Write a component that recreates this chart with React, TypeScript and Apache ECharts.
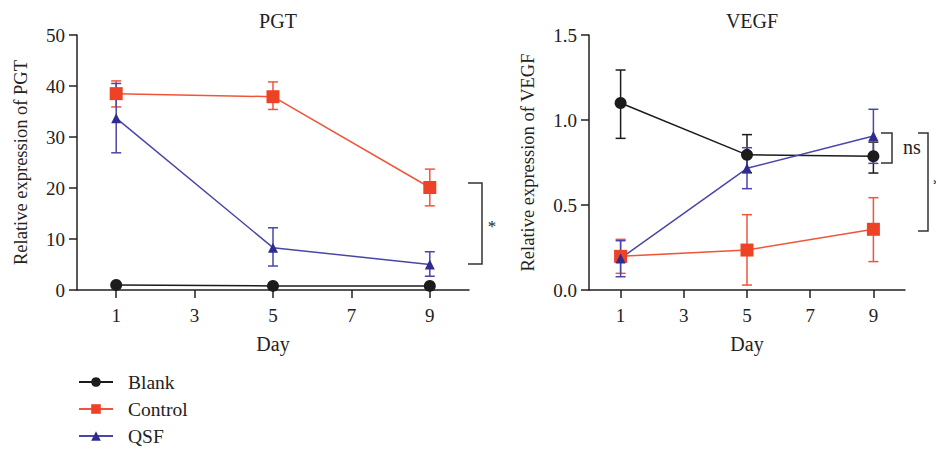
import React, { useEffect, useRef } from "react";
import * as echarts from "echarts";

const days = [1, 5, 9];
const dayTicks = [1, 3, 5, 7, 9];
const seriesNames = ["Blank", "Control", "QSF"];
const colors = ["#1c1c1c", "#ee4226", "#2f2b91"];
const lineColors = ["#1c1c1c", "#f0553a", "#4a46a8"];
const symbols = ["circle", "rect", "triangle"];
const symbolSizes = [12, 13, 10];

// PGT: mean, low, high
const pgtMean = [
  [1.0, 0.8, 0.8],
  [38.5, 37.9, 20.1],
  [33.7, 8.3, 5.0],
];
const pgtLow = [
  [1.0, 0.8, 0.8],
  [35.9, 35.4, 16.5],
  [26.9, 4.7, 2.7],
];
const pgtHigh = [
  [1.0, 0.8, 0.8],
  [41.0, 40.8, 23.7],
  [40.5, 12.2, 7.5],
];

// VEGF: mean, low, high
const vegfMean = [
  [1.1, 0.795, 0.787],
  [0.198, 0.235, 0.357],
  [0.186, 0.716, 0.906],
];
const vegfLow = [
  [0.892, 0.69, 0.688],
  [0.098, 0.029, 0.167],
  [0.078, 0.596, 0.745],
];
const vegfHigh = [
  [1.294, 0.914, 0.87],
  [0.298, 0.443, 0.543],
  [0.29, 0.837, 1.063],
];

const FONT = "'Liberation Serif', 'DejaVu Serif', serif";

export default function App() {
  const ref = useRef<HTMLDivElement>(null);
  useEffect(() => {
    if (!ref.current) return;
    const chart = echarts.init(ref.current, undefined, { renderer: "svg" });

    const axisCommon = {
      axisLine: { show: true, lineStyle: { color: "#222", width: 1.5 } },
      axisTick: { show: true, length: 8, lineStyle: { color: "#222", width: 1.5 } },
      splitLine: { show: false },
    };

    const xAxis = [0, 1].map((i) => ({
      ...axisCommon,
      type: "value",
      gridIndex: i,
      min: 0,
      max: 10,
      name: "Day",
      nameLocation: "middle",
      nameGap: 44,
      nameTextStyle: { color: "#222", fontSize: 20, fontFamily: FONT },
      axisTick: { ...axisCommon.axisTick, customValues: dayTicks },
      axisLabel: { customValues: dayTicks, color: "#222", fontSize: 19, fontFamily: FONT, margin: 16 },
    }));

    const yAxis = [
      {
        ...axisCommon,
        type: "value",
        gridIndex: 0,
        min: 0,
        max: 50,
        interval: 10,
        name: "Relative expression of PGT",
        nameLocation: "middle",
        nameGap: 47,
        nameTextStyle: { color: "#222", fontSize: 18.5, fontFamily: FONT },
        axisLabel: { color: "#222", fontSize: 19, fontFamily: FONT, margin: 12 },
      },
      {
        ...axisCommon,
        type: "value",
        gridIndex: 1,
        min: 0,
        max: 1.5,
        interval: 0.5,
        name: "Relative expression of VEGF",
        nameLocation: "middle",
        nameGap: 52,
        nameTextStyle: { color: "#222", fontSize: 18.5, fontFamily: FONT },
        axisLabel: {
          color: "#222",
          fontSize: 19,
          fontFamily: FONT,
          margin: 12,
          formatter: (v: number) => v.toFixed(1),
        },
      },
    ];

    const series: any[] = [];
    const panels = [
      { mean: pgtMean, low: pgtLow, high: pgtHigh },
      { mean: vegfMean, low: vegfLow, high: vegfHigh },
    ];
    panels.forEach((p, pi) => {
      seriesNames.forEach((name, si) => {
        series.push({
          type: "custom",
          xAxisIndex: pi,
          yAxisIndex: pi,
          z: 1,
          silent: true,
          data: days.map((d, k) => [d, p.mean[si][k], p.low[si][k], p.high[si][k]]),
          encode: { x: 0, y: 1 },
          renderItem: (params: any, api: any) => {
            const x = api.value(0);
            const lo = api.coord([x, api.value(2)]);
            const hi = api.coord([x, api.value(3)]);
            const w = 5;
            const style = { stroke: lineColors[si], lineWidth: 1.5 };
            return {
              type: "group",
              children: [
                { type: "line", shape: { x1: lo[0], y1: lo[1], x2: hi[0], y2: hi[1] }, style },
                { type: "line", shape: { x1: lo[0] - w, y1: lo[1], x2: lo[0] + w, y2: lo[1] }, style },
                { type: "line", shape: { x1: hi[0] - w, y1: hi[1], x2: hi[0] + w, y2: hi[1] }, style },
              ],
            };
          },
        });
        series.push({
          type: "line",
          name,
          xAxisIndex: pi,
          yAxisIndex: pi,
          z: 3,
          data: days.map((d, k) => [d, p.mean[si][k]]),
          symbol: symbols[si],
          symbolSize: symbolSizes[si],
          lineStyle: { color: lineColors[si], width: 1.5 },
          itemStyle: { color: colors[si] },
        });
      });
    });

    const bracketStyle = { stroke: "#333", lineWidth: 1.5, fill: "none" };
    const textStyle = (text: string, x: number, y: number, size = 20) => ({
      type: "text",
      x,
      y,
      style: { text, fill: "#222", fontSize: size, fontFamily: FONT, textAlign: "center", textVerticalAlign: "middle" },
    });

    const legends = seriesNames.map((name, i) => ({
      data: [name],
      orient: "vertical",
      left: 78,
      top: 372 + i * 27,
      padding: 0,
      itemWidth: 34,
      itemHeight: 12,
      textStyle: { color: "#222", fontSize: 19.5, fontFamily: FONT, padding: [0, 0, 0, 10] },
      selectedMode: false,
    }));

    chart.setOption({
      animation: false,
      backgroundColor: "#fff",
      title: [
        { text: "PGT", left: 273, top: 6, textAlign: "center", textStyle: { fontSize: 20, fontWeight: "normal", color: "#222", fontFamily: FONT } },
        { text: "VEGF", left: 747, top: 6, textAlign: "center", textStyle: { fontSize: 20, fontWeight: "normal", color: "#222", fontFamily: FONT } },
      ],
      grid: [
        { left: 77, top: 35, width: 392, height: 255 },
        { left: 589, top: 35, width: 316, height: 255 },
      ],
      xAxis,
      yAxis,
      legend: legends,
      graphic: [
        { type: "polyline", shape: { points: [[468, 183], [482, 183], [482, 264], [468, 264]] }, style: bracketStyle },
        textStyle("*", 492, 226, 17),
        { type: "polyline", shape: { points: [[881, 133], [892, 133], [892, 163], [881, 163]] }, style: bracketStyle },
        textStyle("ns", 912, 147),
        { type: "polyline", shape: { points: [[918, 133], [928, 133], [928, 231], [918, 231]] }, style: bracketStyle },
        textStyle("*", 937, 184, 17),
      ],
      series,
    });
    return () => chart.dispose();
  }, []);
  return <div ref={ref} style={{ position: "fixed", left: 0, top: 0, width: 936, height: 451 }} />;
}
